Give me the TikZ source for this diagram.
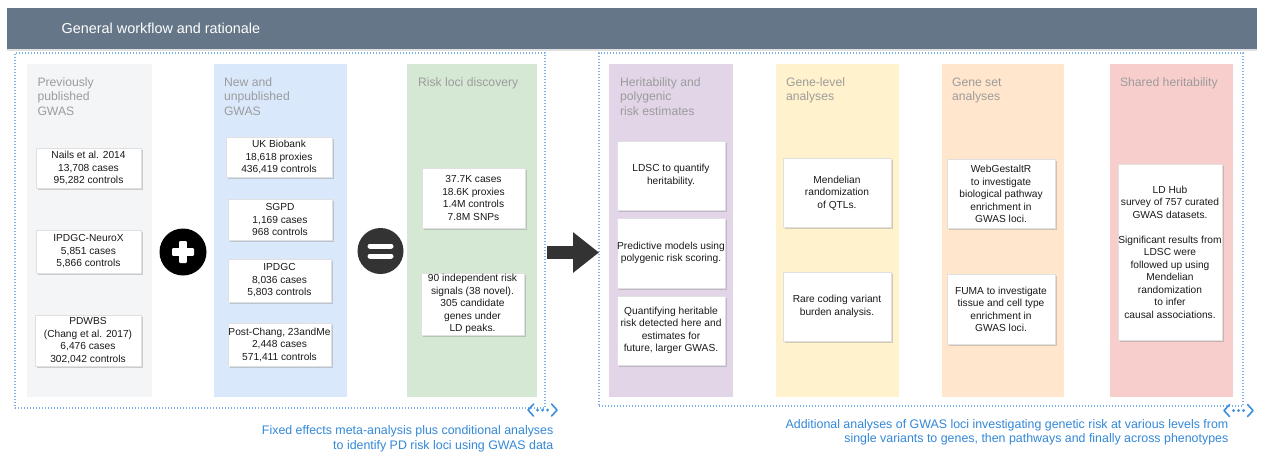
\documentclass[tikz,border=0pt]{standalone}
\usepackage{fontspec}
\setmainfont{Liberation Sans}
\usetikzlibrary{shadows,arrows.meta}
\definecolor{hdrcol}{HTML}{647687}
\definecolor{cgray}{HTML}{F4F5F6}
\definecolor{cblue}{HTML}{DAE8FC}
\definecolor{cgreen}{HTML}{D5E8D4}
\definecolor{cpurple}{HTML}{E1D5E7}
\definecolor{cyellow}{HTML}{FFF2CC}
\definecolor{corange}{HTML}{FFE6CC}
\definecolor{cred}{HTML}{F8CECC}
\definecolor{dotblue}{HTML}{7AAEE6}
\definecolor{iconblue}{HTML}{3C8FDD}
\definecolor{capblue}{HTML}{3388D8}
\definecolor{titlegray}{HTML}{9C9C9C}
\definecolor{txt}{HTML}{1A1A1A}
\definecolor{arrowgray}{HTML}{333333}
\tikzset{
  hdrbox/.style={fill=hdrcol, draw=none, inner sep=0pt,
    drop shadow={shadow xshift=0pt, shadow yshift=-2.5pt, opacity=0.25}},
  hdrtext/.style={text=white, font=\fontsize{14.4}{17}\selectfont, inner sep=0pt, anchor=west},
  colbox/.style={draw=none, inner sep=0pt, minimum height=333pt},
  coltitle/.style={text=titlegray, font=\fontsize{12.2}{14.5}\selectfont, align=left, inner sep=0pt, anchor=north west},
  wbox/.style={draw=black!12, fill=white, inner sep=0pt, align=center, text=txt,
    font=\fontsize{10.2}{12.5}\selectfont,
    drop shadow={shadow xshift=1.6pt, shadow yshift=-1.8pt, opacity=0.35}},
  dotbox/.style={draw=dotblue, line width=1.1pt, dash pattern=on 1.1pt off 1.9pt, inner sep=0pt},
  captext/.style={text=capblue, font=\fontsize{12.4}{14.5}\selectfont, align=right, inner sep=0pt, anchor=east},
  bigarrow/.style={draw=arrowgray, line width=13pt, -{Triangle[length=26pt, width=39pt, fill=arrowgray]}},
  expandicon/.pic={
    \draw[iconblue, line width=1.6pt, line cap=round, line join=round] (-9,-6) -- (-14.5,0) -- (-9,6);
    \draw[iconblue, line width=1.6pt, line cap=round, line join=round] (9,-6) -- (14.5,0) -- (9,6);
    \fill[iconblue] (-5,0) circle (1.6) (0,0) circle (1.6) (5,0) circle (1.6);
  }
}
\begin{document}
\begin{tikzpicture}[x=1pt,y=-1pt]
\useasboundingbox[fill=white] (0,0) rectangle (1264,456);

% header
\node[hdrbox, minimum width=1250pt, minimum height=41pt] (hdr) at (632,28) {};
\node[hdrtext] (hdrt) at (61.5,28.5) {General workflow and rationale};

% dotted groups
\node[dotbox, minimum width=530pt, minimum height=355pt] (gL) at (280,230.5) {};
\node[dotbox, minimum width=644pt, minimum height=353pt] (gR) at (921,229.5) {};

% columns
\node[colbox, fill=cgray, minimum width=125pt] (c1) at (89.5,230.5) {};
\node[colbox, fill=cblue, minimum width=133pt] (c2) at (280.5,230.5) {};
\node[colbox, fill=cgreen, minimum width=130pt] (c3) at (472,230.5) {};
\node[colbox, fill=cpurple, minimum width=124pt] (c4) at (671,230.5) {};
\node[colbox, fill=cyellow, minimum width=123pt] (c5) at (837.5,230.5) {};
\node[colbox, fill=corange, minimum width=122pt] (c6) at (1003,230.5) {};
\node[colbox, fill=cred, minimum width=123pt] (c7) at (1171.5,230.5) {};

% column titles
\node[coltitle] (t1) at ([shift={(10.5,13.5)}]c1.north west) {Previously\\published\\GWAS};
\node[coltitle] (t2) at ([shift={(10,13.5)}]c2.north west) {New and\\unpublished\\GWAS};
\node[coltitle] (t3) at ([shift={(11,13.5)}]c3.north west) {Risk loci discovery};
\node[coltitle] (t4) at ([shift={(11,13.5)}]c4.north west) {Heritability and\\polygenic\\risk estimates};
\node[coltitle] (t5) at ([shift={(10,13.5)}]c5.north west) {Gene-level\\analyses};
\node[coltitle] (t6) at ([shift={(10,13.5)}]c6.north west) {Gene set\\analyses};
\node[coltitle] (t7) at ([shift={(10,13.5)}]c7.north west) {Shared heritability};

% column 1 boxes
\node[wbox, minimum width=105pt, minimum height=40pt] (n1) at (88.5,168) {Nails et al. 2014\\13,708 cases\\95,282 controls};
\node[wbox, minimum width=105pt, minimum height=43pt] (n2) at (88.5,251.5) {IPDGC-NeuroX\\5,851 cases\\5,866 controls};
\node[wbox, minimum width=106pt, minimum height=51pt] (n3) at (88,340.5) {PDWBS\\(Chang et al. 2017)\\6,476 cases\\302,042 controls};

% column 2 boxes
\node[wbox, minimum width=106pt, minimum height=40pt] (u1) at (279,157) {UK Biobank\\18,618 proxies\\436,419 controls};
\node[wbox, minimum width=104pt, minimum height=41pt] (u2) at (280,219.5) {SGPD\\1,169 cases\\968 controls};
\node[wbox, minimum width=103pt, minimum height=43pt] (u3) at (279.5,280.5) {IPDGC\\8,036 cases\\5,803 controls};
\node[wbox, minimum width=103pt, minimum height=43pt] (u4) at (279.5,344.5) {Post-Chang, 23andMe\\2,448 cases\\571,411 controls};

% column 3 boxes
\node[wbox, minimum width=103pt, minimum height=60pt] (r1) at (473.5,198) {37.7K cases\\18.6K proxies\\1.4M controls\\7.8M SNPs};
\node[wbox, minimum width=103pt, minimum height=62pt] (r2) at (472.5,304) {90 independent risk\\signals (38 novel).\\305 candidate\\genes under\\LD peaks.};

% column 4 boxes
\node[wbox, minimum width=108pt, minimum height=69pt] (h1) at (671,175.5) {LDSC to quantify\\heritability.};
\node[wbox, minimum width=108pt, minimum height=70pt] (h2) at (671,253) {Predictive models using\\polygenic risk scoring.};
\node[wbox, minimum width=108pt, minimum height=69pt] (h3) at (671,330.5) {Quantifying heritable\\risk detected here and\\estimates for\\future, larger GWAS.};

% column 5 boxes
\node[wbox, minimum width=108pt, minimum height=69pt] (g1) at (837,193) {Mendelian\\randomization\\of QTLs.};
\node[wbox, minimum width=108pt, minimum height=69pt] (g2) at (837,306.5) {Rare coding variant\\burden analysis.};

% column 6 boxes
\node[wbox, minimum width=108pt, minimum height=69pt] (s1) at (1001,194) {WebGestaltR\\to investigate\\biological pathway\\enrichment in\\GWAS loci.};
\node[wbox, minimum width=108pt, minimum height=70pt] (s2) at (1001,309.5) {FUMA to investigate\\tissue and cell type\\enrichment in\\GWAS loci.};

% column 7 box
\node[wbox, minimum width=104pt, minimum height=176pt] (l1) at (1170,252) {LD Hub\\survey of 757 curated\\GWAS datasets.\\[12.5pt]Significant results from\\LDSC were\\followed up using\\Mendelian\\randomization\\to infer\\causal associations.};

% plus and equals
\node[circle, fill=black, minimum size=47pt, inner sep=0pt] (plus) at (183,252) {};
\fill[white, rounded corners=1pt] ([shift={(-11,-3.8)}]plus.center) rectangle ([shift={(11,3.8)}]plus.center);
\fill[white, rounded corners=1pt] ([shift={(-3.8,-11)}]plus.center) rectangle ([shift={(3.8,11)}]plus.center);

\node[circle, fill=arrowgray, minimum size=46pt, inner sep=0pt] (equals) at (380.5,251) {};
\draw[white, line width=5pt, line cap=round] ([shift={(-10.5,-5)}]equals.center) -- ([shift={(10.5,-5)}]equals.center);
\draw[white, line width=5pt, line cap=round] ([shift={(-10.5,5)}]equals.center) -- ([shift={(10.5,5)}]equals.center);

% big arrow
\coordinate (as) at (547,252.5);
\coordinate (ae) at (599,252.5);
\draw[bigarrow] (as) -- (ae);

% expand icons
\pic at ([shift={(-3,1.5)}]gL.south east) {expandicon};
\pic at ([shift={(-5,4)}]gR.south east) {expandicon};

% captions
\node[captext] (cap1) at (553.5,439) {Fixed effects meta-analysis plus conditional analyses\\to identify PD risk loci using GWAS data};
\node[captext] (cap2) at (1228.5,432.5) {Additional analyses of GWAS loci investigating genetic risk at various levels from\\single variants to genes, then pathways and finally across phenotypes};
\end{tikzpicture}
\end{document}
